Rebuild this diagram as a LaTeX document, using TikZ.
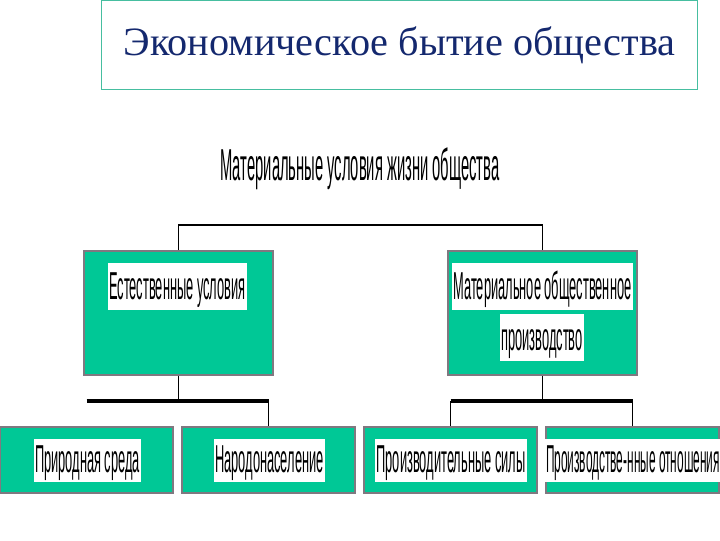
\documentclass[tikz,border=0pt]{standalone}
\usepackage{fontspec}
\usepackage{tikz}
\setmainfont{Liberation Serif}
\newfontfamily\narrowsans[FakeStretch=0.33]{Liberation Sans}
\newfontfamily\narrowersans[FakeStretch=0.305]{Liberation Sans}
\definecolor{boxteal}{RGB}{0,200,150}
\definecolor{titleline}{RGB}{70,190,160}
\definecolor{titleblue}{RGB}{20,40,110}
\definecolor{boxedge}{RGB}{128,120,128}

\begin{document}
\begin{tikzpicture}[x=0.025cm, y=-0.025cm,
		title_style/.style={rectangle,draw=titleline,line width=0.7pt,minimum width=14.875cm,minimum height=2.225cm,
			font=\fontsize{28.6}{34}\selectfont,text=titleblue},
		box_style/.style={rectangle,fill=boxteal,draw=boxedge,line width=1.2pt,minimum width=4.725cm,minimum height=3.1cm},
		small_box_style/.style={rectangle,fill=boxteal,draw=boxedge,line width=1.2pt,minimum width=4.325cm,minimum height=1.65cm},
		label_style/.style={rectangle,fill=white,inner xsep=1pt,inner ysep=0pt,text height=26.2pt,text depth=7.1pt,
			font=\narrowsans\fontsize{27.7}{30}\selectfont},
		small_label_style/.style={label_style,text height=24pt,text depth=6.4pt},
		head_style/.style={inner sep=0pt,font=\narrowsans\fontsize{31.8}{34}\selectfont},
		edge_style/.style={draw=black,line width=1pt},
		bus_style/.style={draw=black,line width=2.2pt}]
		
		\useasboundingbox (0,0) rectangle (720,540);
		
		\node[title_style] (title) at (399.5,45)  {Экономическое бытие общества};
		\node[head_style,anchor=base] (mat) at (360,180)  {Материальные условия жизни общества};
		
		\node[box_style] (nat) at (178.5,313)  {};
		\node[box_style] (prod) at (542.5,313)  {};
		\node[label_style] (natlab) at (177.5,286.5)  {Естественные условия};
		\node[label_style] (prodlab1) at (542.5,286.5)  {Материальное общественное};
		\node[label_style] (prodlab2) at (542,337.5)  {производство};
		
		\node[small_box_style] (env) at (86.5,460)  {};
		\node[small_box_style] (pop) at (268.5,460)  {};
		\node[small_box_style] (forces) at (450.5,460)  {};
		\node[small_box_style] (rel) at (632.5,460)  {};
		\node[small_label_style] (envlab) at (87.5,460.5)  {Природная среда};
		\node[small_label_style] (poplab) at (269.5,460.5)  {Народонаселение};
		\node[small_label_style] (forceslab) at (451,460.5)  {Производительные силы};
		\node[small_label_style,font=\narrowersans\fontsize{27.7}{30}\selectfont] (rellab) at (633,460.5)  {Производстве-нные отношения};
		
		\coordinate (top) at (360,225);
		\coordinate (natsplit) at (178.5,401);
		\coordinate (prodsplit) at (542.5,401);
		
		\draw[edge_style]  (nat.north) |- (top) -| (prod.north);
		
		\draw[edge_style]  (nat.south) -- (natsplit);
		\draw[bus_style]  (env.north |- natsplit) -- (pop.north |- natsplit);
		\draw[edge_style]  (pop.north |- natsplit) -- (pop.north);
		
		\draw[edge_style]  (prod.south) -- (prodsplit);
		\draw[bus_style]  (forces.north |- prodsplit) -- (rel.north |- prodsplit);
		\draw[edge_style]  (forces.north |- prodsplit) -- (forces.north);
		\draw[edge_style]  (rel.north |- prodsplit) -- (rel.north);
		
		\end{tikzpicture}
\end{document}
